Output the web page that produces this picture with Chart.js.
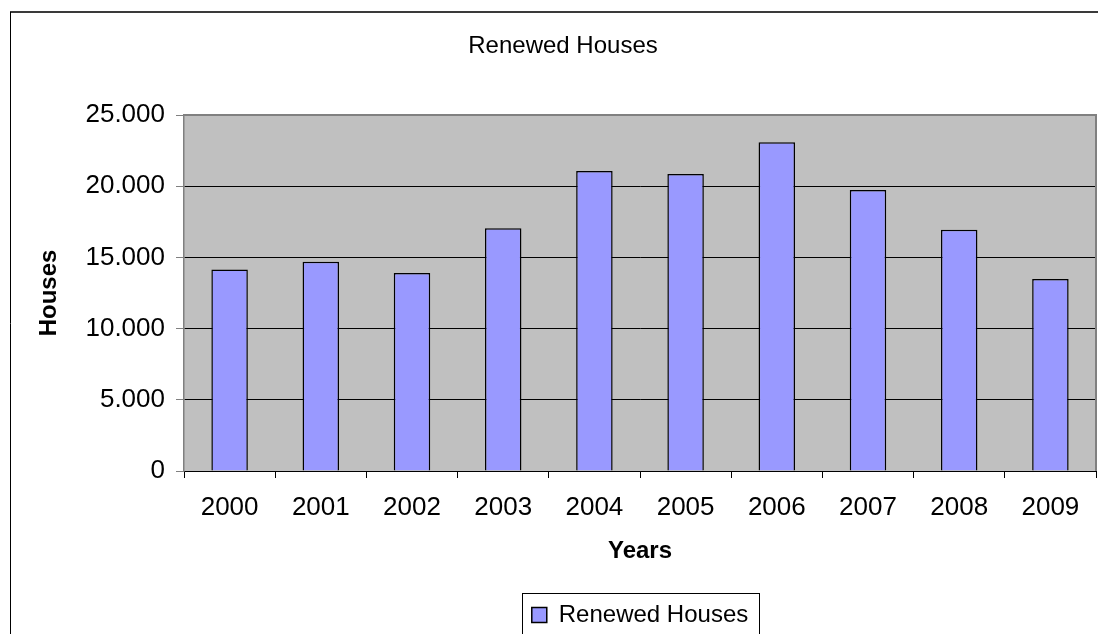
<!DOCTYPE html>
<html>
<head>
<meta charset="utf-8">
<script src="https://cdn.jsdelivr.net/npm/chart.js@4.4.1/dist/chart.umd.min.js"></script>
<style>
  html, body { margin: 0; padding: 0; background: #fff; }
  #wrap { width: 1098px; height: 634px; position: relative; }
</style>
</head>
<body>
<div id="wrap"><canvas id="c" width="1098" height="634"></canvas></div>
<script>
const years = ['2000','2001','2002','2003','2004','2005','2006','2007','2008','2009'];
const renewedHouses = [14150, 14700, 13900, 17050, 21070, 20850, 23080, 19730, 16940, 13480];
const seriesLabel = 'Renewed Houses';
const chartTitle = 'Renewed Houses';
const xTitle = 'Years';
const yTitle = 'Houses';

const FONT = '"Liberation Sans", Arial, sans-serif';

const framePlugin = {
  id: 'frame',
  beforeDraw(chart) {
    const ctx = chart.ctx;
    const a = chart.chartArea;
    ctx.save();
    ctx.fillStyle = '#fff';
    ctx.fillRect(0, 0, chart.width, chart.height);
    // outer frame
    ctx.strokeStyle = '#3a3a3a';
    ctx.lineWidth = 2;
    ctx.beginPath();
    ctx.moveTo(10, 12); ctx.lineTo(chart.width + 2, 12);
    ctx.stroke();
    ctx.strokeStyle = '#000';
    ctx.lineWidth = 1;
    ctx.beginPath();
    ctx.moveTo(10.5, 12); ctx.lineTo(10.5, chart.height + 2);
    ctx.stroke();
    // plot background
    ctx.fillStyle = '#C0C0C0';
    ctx.fillRect(a.left, a.top, a.right - a.left, a.bottom - a.top);
    // chart title (offset like the original, slightly right of canvas centre)
    ctx.fillStyle = '#000';
    ctx.font = '24px ' + FONT;
    ctx.textAlign = 'center';
    ctx.textBaseline = 'middle';
    ctx.fillText(chartTitle, 563, 46);
    ctx.restore();
  },
  afterDraw(chart) {
    const ctx = chart.ctx;
    const a = chart.chartArea;
    ctx.save();
    ctx.strokeStyle = '#808080';
    ctx.lineWidth = 2;
    ctx.beginPath();
    ctx.moveTo(a.left, a.top);
    ctx.lineTo(a.right, a.top);
    ctx.lineTo(a.right, a.bottom);
    ctx.stroke();
    // legend border
    const lg = chart.legend;
    if (lg && lg.legendHitBoxes && lg.legendHitBoxes.length) {
      const hb = lg.legendHitBoxes[0];
      ctx.strokeStyle = '#000';
      ctx.lineWidth = 1;
      const l = Math.round(hb.left - 10) + 0.5;
      const r = Math.round(hb.left + hb.width + 11) + 0.5;
      const t = Math.round(lg.top) + 0.5;
      ctx.strokeRect(l, t, r - l, 80);
    }
    ctx.restore();
  }
};

new Chart(document.getElementById('c'), {
  type: 'bar',
  data: {
    labels: years,
    datasets: [{
      label: seriesLabel,
      data: renewedHouses,
      backgroundColor: '#9999FF',
      borderColor: '#000',
      borderWidth: 1.5,
      barPercentage: 0.4,
      categoryPercentage: 1.0
    }]
  },
  options: {
    responsive: false,
    animation: false,
    devicePixelRatio: 1,
    layout: { padding: { left: 0, right: 2, top: 115, bottom: 0 } },
    plugins: {
      title: { display: false },
      legend: {
        display: true,
        position: 'bottom',
        fullSize: false,
        maxHeight: 41,
        labels: {
          color: '#000',
          font: { family: FONT, size: 24 },
          boxWidth: 15,
          boxHeight: 15,
          padding: 10,
          generateLabels(chart) {
            const ds = chart.data.datasets[0];
            return [{
              text: ds.label,
              fillStyle: ds.backgroundColor,
              strokeStyle: '#000',
              lineWidth: 1.5,
              datasetIndex: 0,
              fontColor: '#000'
            }];
          }
        }
      },
      tooltip: { enabled: false }
    },
    scales: {
      x: {
        afterFit(scale) { scale.height = 122; },
        grid: {
          display: true,
          drawOnChartArea: false,
          drawTicks: true,
          tickLength: 7,
          tickColor: '#000',
          offset: true
        },
        border: { display: true, color: '#000', width: 1 },
        ticks: {
          color: '#000',
          font: { family: FONT, size: 26 },
          padding: 14,
          maxRotation: 0
        },
        title: {
          display: true,
          text: xTitle,
          color: '#000',
          font: { family: FONT, size: 24, weight: 'bold' },
          padding: { top: 0, bottom: 27 }
        }
      },
      y: {
        min: 0,
        max: 25000,
        afterFit(scale) { scale.width = 184; },
        grid: {
          color: '#000',
          lineWidth: 1,
          drawTicks: true,
          tickLength: 8,
          tickColor: '#808080'
        },
        border: { display: true, color: '#808080', width: 1.5 },
        ticks: {
          stepSize: 5000,
          color: '#000',
          font: { family: FONT, size: 26 },
          padding: 11,
          callback: (v) => v === 0 ? '0' : (v / 1000).toFixed(3)
        },
        title: {
          display: true,
          text: yTitle,
          color: '#000',
          font: { family: FONT, size: 24, weight: 'bold' },
          padding: { top: 35, bottom: 0 }
        }
      }
    }
  },
  plugins: [framePlugin]
});
</script>
</body>
</html>
